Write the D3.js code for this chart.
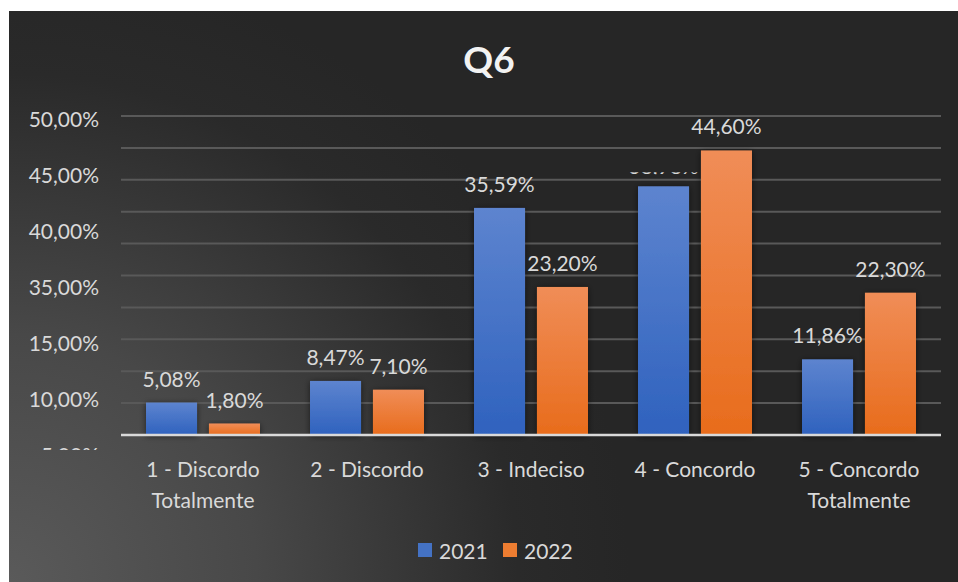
<!DOCTYPE html>
<html>
<head>
<meta charset="utf-8">
<script src="https://cdn.jsdelivr.net/npm/d3@7"></script>
<style>
  html, body { margin: 0; padding: 0; background: #ffffff; }
  svg { display: block; }
  text { font-family: Lato, "Open Sans", sans-serif; }
</style>
</head>
<body>
<svg id="chart" width="958" height="582"></svg>
<script>
// ---- data ----
const categoryLines = [
  ["1 - Discordo", "Totalmente"],
  ["2 - Discordo"],
  ["3 - Indeciso"],
  ["4 - Concordo"],
  ["5 - Concordo", "Totalmente"]
];
const seriesNames = ["2021", "2022"];
const values2021 = [5.08, 8.47, 35.59, 38.98, 11.86];
const values2022 = [1.80, 7.10, 23.20, 44.60, 22.30];
const yTickLabels = ["50,00%", "45,00%", "40,00%", "35,00%", "15,00%", "10,00%", "5,00%"];
const title = "Q6";

// ---- setup ----
const W = 958, H = 582;
const FS = 21;
const svg = d3.select("#chart");
const defs = svg.append("defs");

const bg = defs.append("radialGradient").attr("id", "bg")
  .attr("gradientUnits", "userSpaceOnUse")
  .attr("cx", 9).attr("cy", 582).attr("r", 620);
bg.append("stop").attr("offset", "0").attr("stop-color", "#5a5a5a");
bg.append("stop").attr("offset", "0.4").attr("stop-color", "#484848");
bg.append("stop").attr("offset", "0.82").attr("stop-color", "#2a2a2a");
bg.append("stop").attr("offset", "1").attr("stop-color", "#262626");

const gBlue = defs.append("linearGradient").attr("id", "gBlue").attr("x1", 0).attr("y1", 0).attr("x2", 0).attr("y2", 1);
gBlue.append("stop").attr("offset", "0").attr("stop-color", "#5d84cf");
gBlue.append("stop").attr("offset", "1").attr("stop-color", "#2f62be");
const gOrange = defs.append("linearGradient").attr("id", "gOrange").attr("x1", 0).attr("y1", 0).attr("x2", 0).attr("y2", 1);
gOrange.append("stop").attr("offset", "0").attr("stop-color", "#f08d57");
gOrange.append("stop").attr("offset", "1").attr("stop-color", "#e86c1c");
const fills = ["url(#gBlue)", "url(#gOrange)"];
const legendColors = ["#4472c4", "#ed7d31"];

const shadow = defs.append("filter").attr("id", "shadow")
  .attr("x", "-30%").attr("y", "-30%").attr("width", "160%").attr("height", "160%");
shadow.append("feDropShadow").attr("dx", 0).attr("dy", 1).attr("stdDeviation", 3)
  .attr("flood-color", "#000").attr("flood-opacity", 0.55);

svg.append("rect").attr("x", 9).attr("y", 11).attr("width", W - 9).attr("height", H - 11)
  .attr("fill", "url(#bg)");

// ---- scales ----
const x0 = d3.scaleBand().domain(d3.range(categoryLines.length))
  .range([121, 941]).paddingInner(0.305).paddingOuter(0.1525);
const x1 = d3.scaleBand().domain(seriesNames).range([0, x0.bandwidth()]).paddingInner(0.19);
const y = d3.scaleLinear().domain([0, 50]).range([435, 116]);

// ---- gridlines ----
svg.append("g").selectAll("line").data(y.ticks(10).filter(d => d > 0)).join("line")
  .attr("x1", 121).attr("x2", 941)
  .attr("y1", d => y(d)).attr("y2", d => y(d))
  .attr("stroke", "#595959").attr("stroke-width", 2);

// ---- y tick labels (as shown in the original) ----
defs.append("clipPath").attr("id", "yclip").append("rect")
  .attr("x", 0).attr("y", 0).attr("width", 120).attr("height", 450);
const yl = d3.scalePoint().domain(yTickLabels).range([120, 456]);
svg.append("g").attr("clip-path", "url(#yclip)").selectAll("text").data(yTickLabels).join("text")
  .attr("x", 99).attr("y", d => yl(d)).attr("dy", "0.35em")
  .attr("text-anchor", "end").attr("font-size", FS).attr("fill", "#d9d9d9")
  .text(d => d);

// ---- bars ----
const seriesValues = [values2021, values2022];
const fmt = v => d3.format(".2f")(v).replace(".", ",") + "%";
const groups = svg.append("g").selectAll("g").data(categoryLines.map((c, i) => i)).join("g")
  .attr("transform", i => `translate(${x0(i)},0)`);
groups.selectAll("rect").data(i => seriesNames.map((s, k) => ({ s, k, v: seriesValues[k][i] }))).join("rect")
  .attr("x", d => x1(d.s)).attr("width", x1.bandwidth())
  .attr("y", d => y(d.v)).attr("height", d => y(0) - y(d.v))
  .attr("fill", d => fills[d.k]).attr("filter", "url(#shadow)");

// baseline
svg.append("line").attr("x1", 121).attr("x2", 941).attr("y1", y(0)).attr("y2", y(0))
  .attr("stroke", "#d9d9d9").attr("stroke-width", 2.5);

// ---- data labels ----
const labelData = [];
categoryLines.forEach((c, i) => seriesNames.forEach((s, k) => {
  labelData.push({ i, s, k, v: seriesValues[k][i] });
}));
// the 2021 label of "4 - Concordo" is almost entirely hidden in the original
const hidden = d => d.i === 3 && d.k === 0;
labelData.filter(hidden).forEach(d => {
  defs.append("clipPath").attr("id", "hclip").append("rect")
    .attr("x", x0(d.i) + x1(d.s) - 30).attr("y", y(d.v) - 14)
    .attr("width", x1.bandwidth() + 60).attr("height", 2);
});
svg.append("g").selectAll("text").data(labelData).join("text")
  .attr("x", d => x0(d.i) + x1(d.s) + x1.bandwidth() / 2)
  .attr("y", d => hidden(d) ? y(d.v) - 12 : y(d.v) - 16)
  .attr("text-anchor", "middle").attr("font-size", FS).attr("fill", "#d9d9d9")
  .attr("clip-path", d => hidden(d) ? "url(#hclip)" : null)
  .text(d => fmt(d.v));

// ---- category labels ----
const cat = svg.append("g").selectAll("text").data(categoryLines.map((l, i) => ({ l, i }))).join("text")
  .attr("x", d => x0(d.i) + x0.bandwidth() / 2).attr("y", 477)
  .attr("text-anchor", "middle").attr("font-size", FS).attr("fill", "#d9d9d9");
cat.selectAll("tspan").data(d => d.l.map((t, j) => ({ t, j, x: x0(d.i) + x0.bandwidth() / 2 }))).join("tspan")
  .attr("x", d => d.x).attr("dy", d => d.j === 0 ? 0 : 31).text(d => d.t);

// ---- title ----
svg.append("text").attr("x", 489).attr("y", 73).attr("text-anchor", "middle")
  .attr("font-size", 37).attr("font-weight", "bold").attr("fill", "#f2f2f2").text(title);

// ---- legend ----
const legendX = d3.scalePoint().domain(seriesNames).range([418, 503]);
const lg = svg.append("g").selectAll("g").data(seriesNames).join("g")
  .attr("transform", d => `translate(${legendX(d)},543)`);
lg.append("rect").attr("width", 14).attr("height", 14).attr("fill", (d, k) => legendColors[k]);
lg.append("text").attr("x", 21).attr("y", 16).attr("font-size", FS).attr("fill", "#d9d9d9").text(d => d);
</script>
</body>
</html>
